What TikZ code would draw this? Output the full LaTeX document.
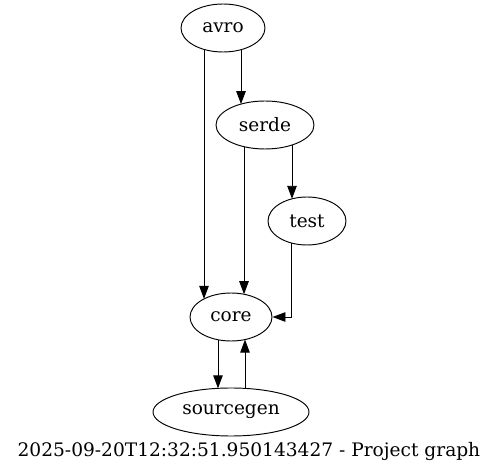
\documentclass[tikz,border=0pt]{standalone}
\usepackage{fontspec}
\setmainfont{DejaVu Serif}
\usetikzlibrary{shapes.geometric,arrows.meta,calc}
\begin{document}
\begin{tikzpicture}[x=1pt,y=-1pt,
  gnode/.style={draw,ellipse,line width=0.95pt,inner sep=0pt,minimum height=48pt,font=\fontsize{18.5}{22}\selectfont},
  edge/.style={line width=0.95pt,-{Triangle[length=13pt,width=9.5pt]}}]
\useasboundingbox (0,0) rectangle (499,473);
\node[gnode,minimum width=84pt] (avro) at (223,28) {avro};
\node[gnode,minimum width=98pt] (serde) at (265,125) {serde};
\node[gnode,minimum width=78pt] (test) at (307,221) {test};
\node[gnode,minimum width=82pt] (core) at (231,317) {core};
\node[gnode,minimum width=156pt] (sourcegen) at (231,412) {sourcegen};
\node[font=\fontsize{18.6}{22}\selectfont] (label) at (249,452) {2025-09-20T12:32:51.950143427 - Project graph};
\draw[edge] ($(avro.center)+(-19,21.4)$) -- ($(core.center)+(-27,-18.1)$);
\draw[edge] ($(avro.center)+(18,21.7)$) -- ($(serde.center)+(-24,-20.9)$);
\draw[edge] ($(serde.center)+(-21,21.7)$) -- ($(core.center)+(13,-22.8)$);
\draw[edge] ($(serde.center)+(27,20.0)$) -- ($(test.center)+(-15,-22.2)$);
\draw[edge] ($(test.center)+(-16,21.9)$) |- (core.east);
\draw[edge] ($(core.center)+(-13,22.8)$) -- ($(sourcegen.center)+(-13,-23.7)$);
\draw[edge] ($(sourcegen.center)+(14,-23.6)$) -- ($(core.center)+(14,22.6)$);
\end{tikzpicture}
\end{document}
